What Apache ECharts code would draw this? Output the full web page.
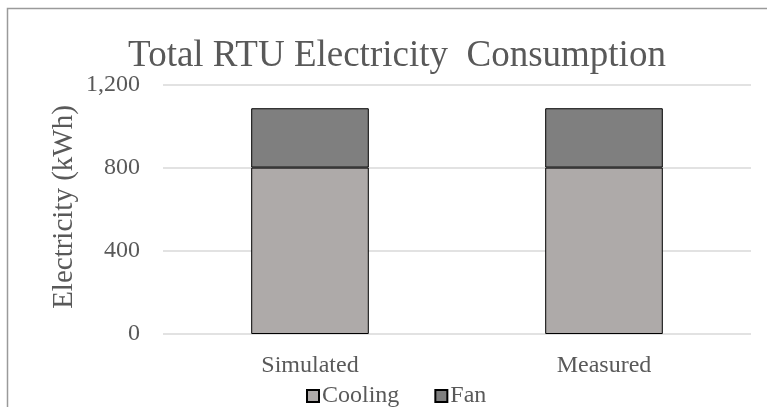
<!DOCTYPE html>
<html>
<head>
<meta charset="utf-8">
<script src="https://cdn.jsdelivr.net/npm/echarts@6/dist/echarts.min.js"></script>
<style>
  html, body { margin: 0; padding: 0; background: #fff; }
  #chart { width: 767px; height: 407px; }
</style>
</head>
<body>
<div id="chart"></div>
<script>
// Total RTU electricity use, split by component (kWh)
const categories = ['Simulated', 'Measured'];
const coolingKWh = [802, 802];
const fanKWh = [286, 286];
const yTicks = { min: 0, max: 1200, interval: 400 };
const yAxisTitle = 'Electricity (kWh)';

const serif = '"Liberation Serif", "Times New Roman", serif';
const textGrey = '#595959';

const chart = echarts.init(document.getElementById('chart'));
chart.setOption({
  animation: false,
  backgroundColor: '#ffffff',
  title: {
    text: 'Total RTU Electricity  Consumption',
    left: 392,
    textAlign: 'center',
    top: 33,
    textStyle: { fontFamily: serif, fontSize: 37, fontWeight: 'normal', color: textGrey }
  },
  legend: {
    left: 306,
    top: 384,
    padding: 0,
    itemWidth: 12,
    itemHeight: 12,
    itemGap: 35,
    icon: 'rect',
    textStyle: { fontFamily: serif, fontSize: 24, color: textGrey, padding: [0, 0, 0, -2] },
    data: ['Cooling', 'Fan']
  },
  grid: { left: 163, right: 16, top: 85, bottom: 73 },
  xAxis: {
    type: 'category',
    data: categories,
    axisLine: { show: false },
    axisTick: { show: false },
    axisLabel: { fontFamily: serif, fontSize: 24, color: textGrey, margin: 20 }
  },
  yAxis: {
    type: 'value',
    min: yTicks.min,
    max: yTicks.max,
    interval: yTicks.interval,
    axisLine: { show: false },
    axisTick: { show: false },
    splitLine: { lineStyle: { color: '#d9d9d9', width: 1.5 } },
    axisLabel: {
      fontFamily: serif, fontSize: 24, color: textGrey, margin: 23,
      formatter: v => v.toLocaleString('en-US')
    }
  },
  series: [
    {
      name: 'Cooling',
      type: 'bar',
      stack: 'total',
      barWidth: '40%',
      data: coolingKWh,
      itemStyle: { color: '#aeaaa9', borderColor: '#000', borderWidth: 1 }
    },
    {
      name: 'Fan',
      type: 'bar',
      stack: 'total',
      barWidth: '40%',
      data: fanKWh,
      itemStyle: { color: '#7f7f7f', borderColor: '#000', borderWidth: 1 }
    }
  ],
  graphic: [
    {
      // chart-area frame
      type: 'rect',
      silent: true,
      shape: { x: 7.5, y: 8.5, width: 800, height: 500 },
      style: { fill: 'none', stroke: '#9a9a9a', lineWidth: 1.5 }
    },
    {
      // vertical value-axis caption
      type: 'text',
      silent: true,
      x: 64,
      y: 207,
      rotation: Math.PI / 2,
      style: {
        text: yAxisTitle,
        fontFamily: serif,
        fontSize: 29,
        fill: textGrey,
        align: 'center',
        verticalAlign: 'middle'
      }
    }
  ]
});
</script>
</body>
</html>
